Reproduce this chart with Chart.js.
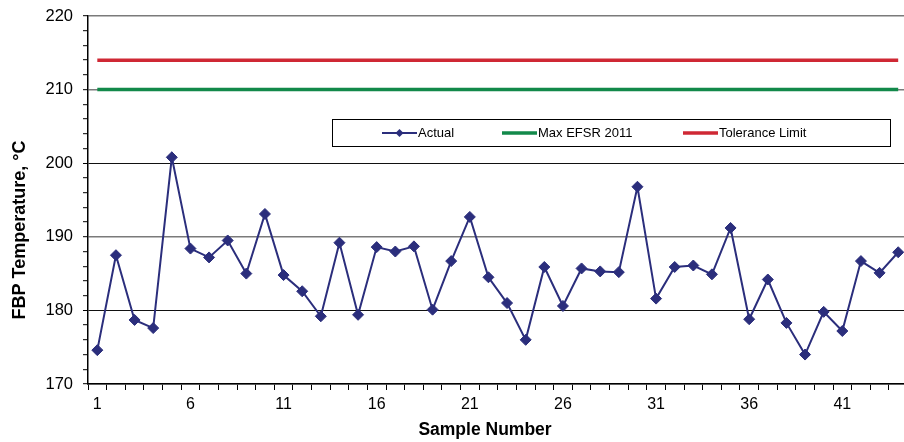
<!DOCTYPE html>
<html>
<head>
<meta charset="utf-8">
<script src="https://cdn.jsdelivr.net/npm/chart.js@4.4.1/dist/chart.umd.min.js"></script>
<style>
  html, body { margin: 0; padding: 0; background: #fff; overflow: hidden; width: 904px; height: 442px; }
  #wrap { position: relative; width: 914px; height: 442px; }
</style>
</head>
<body>
<div id="wrap"><canvas id="c" width="914" height="442"></canvas></div>
<script>
const sampleNumbers = Array.from({length: 44}, (_, i) => String(i + 1));
const actual = [174.6, 187.5, 178.7, 177.6, 200.8, 188.4, 187.2, 189.5, 185.0, 193.1,
                184.8, 182.6, 179.2, 189.2, 179.4, 188.6, 188.0, 188.7, 180.1, 186.7,
                192.7, 184.5, 181.0, 176.0, 185.9, 180.6, 185.7, 185.3, 185.2, 196.8,
                181.6, 185.9, 186.1, 184.9, 191.2, 178.8, 184.2, 178.3, 174.0, 179.8,
                177.2, 186.7, 185.1, 187.9];
const maxEfsr2011 = sampleNumbers.map(() => 210);
const toleranceLimit = sampleNumbers.map(() => 214);
const yMin = 170, yMax = 220;

const FONT = "'Liberation Sans', Arial, sans-serif";
const NAVY = '#2B2E7C', GREEN = '#12894A', RED = '#CF2834';
const isMajor = v => Math.abs(Math.round(v) - v) < 1e-6 && Math.round(v) % 10 === 0;

const overlay = {
  id: 'overlay',
  afterDraw(chart) {
    const ctx = chart.ctx;
    ctx.save();
    ctx.fillStyle = '#000';
    ctx.font = "bold 17.5px " + FONT;
    ctx.textAlign = 'center';
    ctx.textBaseline = 'middle';
    ctx.fillText('Sample Number', 485, 430);
    ctx.save();
    ctx.translate(20, 230);
    ctx.rotate(-Math.PI / 2);
    ctx.font = "bold 18px " + FONT;
    ctx.fillText('FBP Temperature, °C', 0, 0);
    ctx.restore();
    // legend box
    ctx.fillStyle = '#fff';
    ctx.fillRect(332, 119, 559, 27);
    ctx.strokeStyle = '#000';
    ctx.lineWidth = 1;
    ctx.strokeRect(332.5, 119.5, 558, 27);
    const ly = 133;
    const xs = [382, 502, 683];
    ctx.font = "13px " + FONT;
    ctx.textAlign = 'left';
    ctx.textBaseline = 'middle';
    chart.data.datasets.forEach((ds, i) => {
      const x = xs[i];
      ctx.strokeStyle = ds.borderColor;
      ctx.lineWidth = ds.borderWidth;
      ctx.beginPath();
      ctx.moveTo(x, ly);
      ctx.lineTo(x + 35, ly);
      ctx.stroke();
      if (ds.pointRadius > 0) {
        ctx.fillStyle = ds.borderColor;
        ctx.beginPath();
        ctx.moveTo(x + 17.5, ly - 4);
        ctx.lineTo(x + 21.5, ly);
        ctx.lineTo(x + 17.5, ly + 4);
        ctx.lineTo(x + 13.5, ly);
        ctx.closePath();
        ctx.fill();
      }
      ctx.fillStyle = '#000';
      ctx.fillText(ds.label, x + 36, ly + 0.5);
    });
    ctx.restore();
  }
};

new Chart(document.getElementById('c'), {
  type: 'line',
  data: {
    labels: sampleNumbers,
    datasets: [
      { label: 'Actual', data: actual, borderColor: NAVY, backgroundColor: NAVY,
        borderWidth: 2, pointStyle: 'rectRot', pointRadius: 5.5, pointBorderWidth: 1,
        pointBackgroundColor: NAVY, pointBorderColor: NAVY, tension: 0, order: 0 },
      { label: 'Max EFSR 2011', data: maxEfsr2011, borderColor: GREEN, backgroundColor: GREEN,
        borderWidth: 3.5, pointRadius: 0, tension: 0, order: 1 },
      { label: 'Tolerance Limit', data: toleranceLimit, borderColor: RED, backgroundColor: RED,
        borderWidth: 3.5, pointRadius: 0, tension: 0, order: 2 }
    ]
  },
  options: {
    responsive: false,
    animation: false,
    devicePixelRatio: 1,
    layout: { padding: { top: 16, left: 0, right: 0, bottom: 0 } },
    plugins: { legend: { display: false }, tooltip: { enabled: false } },
    elements: { line: { borderCapStyle: 'butt' } },
    scales: {
      x: {
        type: 'category',
        offset: true,
        afterFit(scale) { scale.height = 58; scale.paddingLeft = 0; scale.paddingRight = 0; },
        grid: { offset: true, drawOnChartArea: false, drawTicks: true, tickLength: 6, tickColor: '#000', tickWidth: 1 },
        border: { color: '#000', width: 1.5 },
        ticks: {
          autoSkip: false, maxRotation: 0, minRotation: 0, padding: 5,
          color: '#000', font: { family: FONT, size: 16 },
          callback(v, i) { return i % 5 === 0 ? this.getLabelForValue(v) : ''; }
        }
      },
      y: {
        min: yMin, max: yMax,
        afterFit(scale) { scale.width = 88; scale.paddingTop = 0; scale.paddingBottom = 0; },
        grid: {
          drawTicks: true, tickLength: 5, tickColor: '#000', tickWidth: 1,
          color(ctx) {
            const v = ctx.tick && ctx.tick.value;
            if (!isMajor(v)) return 'rgba(0,0,0,0)';
            const r = Math.round(v);
            return (r === 180 || r === 200) ? '#111' : '#7a7a7a';
          },
          lineWidth(ctx) {
            const v = ctx.tick && ctx.tick.value;
            const r = Math.round(v);
            return (r === 180 || r === 200) ? 1 : 1.4;
          }
        },
        border: { color: '#000', width: 1.5 },
        ticks: {
          stepSize: 2, autoSkip: false, padding: 10, color: '#000',
          font: { family: FONT, size: 16.5 },
          callback(v) { return isMajor(v) ? String(Math.round(v)) : ''; }
        }
      }
    }
  },
  plugins: [overlay]
});
</script>
</body>
</html>
